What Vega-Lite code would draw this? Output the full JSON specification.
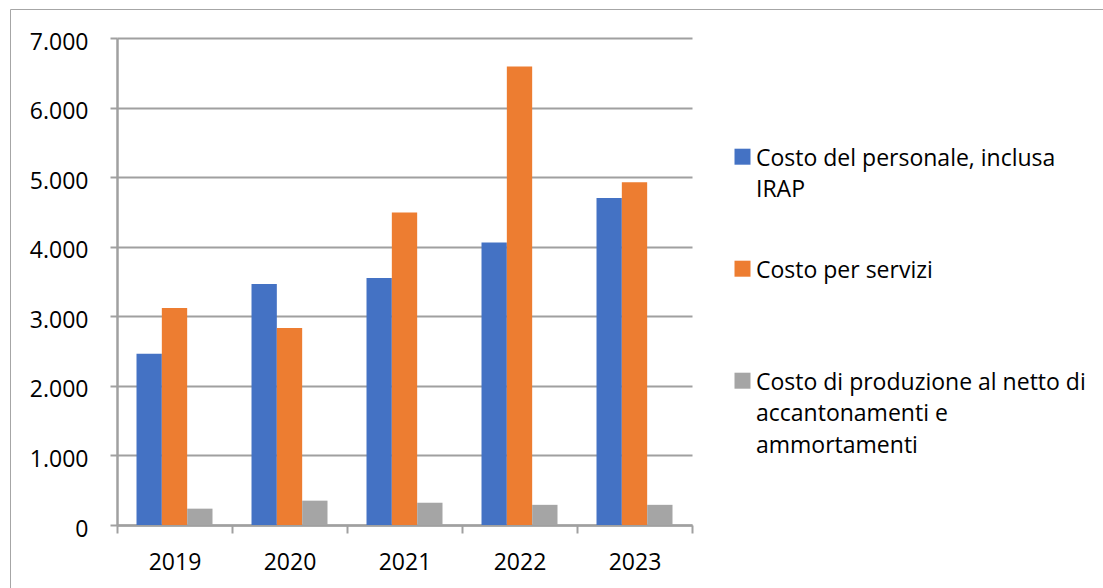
{
  "$schema": "https://vega.github.io/schema/vega-lite/v6.json",
  "width": 1093,
  "height": 579,
  "autosize": {"type": "none"},
  "padding": {"left": 10, "top": 9, "right": 0, "bottom": 0},
  "background": "white",
  "config": {
    "font": "Open Sans",
    "view": {"stroke": "#a6a6a6", "strokeWidth": 1},
    "style": {"guide-label": {"lineHeight": 31.7}}
  },
  "data": {
    "values": [
      {"anno": "2019", "voce": "Costo del personale, inclusa IRAP", "valore": 2460},
      {"anno": "2019", "voce": "Costo per servizi", "valore": 3120},
      {"anno": "2019", "voce": "Costo di produzione al netto di accantonamenti e ammortamenti", "valore": 235},
      {"anno": "2020", "voce": "Costo del personale, inclusa IRAP", "valore": 3465},
      {"anno": "2020", "voce": "Costo per servizi", "valore": 2830},
      {"anno": "2020", "voce": "Costo di produzione al netto di accantonamenti e ammortamenti", "valore": 350},
      {"anno": "2021", "voce": "Costo del personale, inclusa IRAP", "valore": 3550},
      {"anno": "2021", "voce": "Costo per servizi", "valore": 4490},
      {"anno": "2021", "voce": "Costo di produzione al netto di accantonamenti e ammortamenti", "valore": 320},
      {"anno": "2022", "voce": "Costo del personale, inclusa IRAP", "valore": 4060},
      {"anno": "2022", "voce": "Costo per servizi", "valore": 6590},
      {"anno": "2022", "voce": "Costo di produzione al netto di accantonamenti e ammortamenti", "valore": 290},
      {"anno": "2023", "voce": "Costo del personale, inclusa IRAP", "valore": 4700},
      {"anno": "2023", "voce": "Costo per servizi", "valore": 4925},
      {"anno": "2023", "voce": "Costo di produzione al netto di accantonamenti e ammortamenti", "valore": 290}
    ]
  },
  "mark": {"type": "bar"},
  "encoding": {
    "x": {
      "field": "anno",
      "type": "nominal",
      "scale": {"range": [107, 682], "paddingInner": 0, "paddingOuter": 0},
      "axis": {
        "title": null,
        "orient": "bottom",
        "offset": -63,
        "tickBand": "extent",
        "tickSize": 8,
        "tickColor": "#a0a0a0",
        "tickWidth": 2,
        "domainColor": "#a0a0a0",
        "domainWidth": 2.5,
        "labelFontSize": 23,
        "labelColor": "#000000",
        "labelPadding": 18,
        "labelAngle": 0,
        "labelBaseline": "top",
        "grid": false
      }
    },
    "xOffset": {
      "field": "voce",
      "type": "nominal",
      "sort": ["Costo del personale, inclusa IRAP", "Costo per servizi", "Costo di produzione al netto di accantonamenti e ammortamenti"],
      "scale": {"paddingInner": 0, "paddingOuter": 0.77}
    },
    "y": {
      "field": "valore",
      "type": "quantitative",
      "scale": {"domain": [0, 7000], "range": [516, 29], "nice": false},
      "axis": {
        "title": null,
        "offset": -107,
        "values": [0, 1000, 2000, 3000, 4000, 5000, 6000, 7000],
        "labelExpr": "replace(format(datum.value, ','), ',', '.')",
        "tickSize": 7,
        "tickColor": "#a0a0a0",
        "tickWidth": 2,
        "domainColor": "#a0a0a0",
        "domainWidth": 2.5,
        "grid": true,
        "gridColor": "#a0a0a0",
        "gridWidth": 2,
        "labelFontSize": 23,
        "labelColor": "#000000",
        "labelPadding": 22,
        "labelOffset": 4,
        "labelBaseline": "middle"
      }
    },
    "color": {
      "field": "voce",
      "type": "nominal",
      "sort": ["Costo del personale, inclusa IRAP", "Costo per servizi", "Costo di produzione al netto di accantonamenti e ammortamenti"],
      "scale": {
        "domain": ["Costo del personale, inclusa IRAP", "Costo per servizi", "Costo di produzione al netto di accantonamenti e ammortamenti"],
        "range": ["#4472C4", "#ED7D31", "#A5A5A5"]
      },
      "legend": {
        "title": null,
        "orient": "none",
        "legendX": 721,
        "legendY": 127,
        "padding": 0,
        "symbolType": "M-1,0.15H1V2.15H-1Z",
        "symbolSize": 256,
        "symbolStrokeWidth": 0,
        "labelFontSize": 23,
        "labelColor": "#000000",
        "labelLimit": 500,
        "labelOffset": 2,
        "labelBaseline": "top",
        "gridAlign": "all",
        "rowPadding": 14,
        "labelExpr": "datum.value == 'Costo del personale, inclusa IRAP' ? ['Costo del personale, inclusa', 'IRAP'] : datum.value == 'Costo per servizi' ? 'Costo per servizi' : ['Costo di produzione al netto di', 'accantonamenti e', 'ammortamenti']"
      }
    }
  }
}
